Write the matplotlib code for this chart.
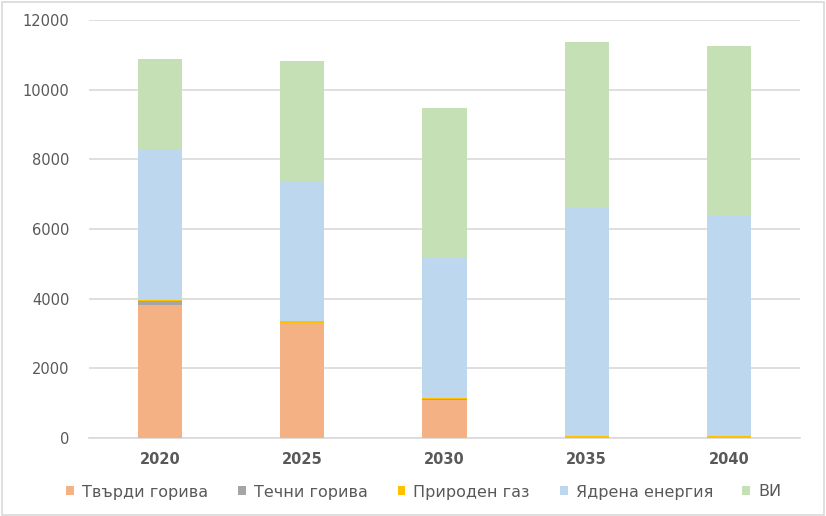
import matplotlib
matplotlib.use("Agg")
import matplotlib.pyplot as plt
import numpy as np
from matplotlib.patches import Rectangle

plt.rcParams['font.family'] = ['DejaVu Sans']

years = ['2020', '2025', '2030', '2035', '2040']
series_names = ['Твърди горива', 'Течни горива', 'Природен газ', 'Ядрена енергия', 'ВИ']
solid = [3820, 3290, 1090, 0, 0]
liquid = [100, 10, 20, 0, 0]
gas = [50, 50, 40, 60, 60]
nuclear = [4310, 4020, 4050, 6570, 6310]
renew = [2600, 3450, 4270, 4740, 4880]
colors = ['#F4B183', '#A5A5A5', '#FFC000', '#BDD7EE', '#C5E0B4']
yticks = [0, 2000, 4000, 6000, 8000, 10000, 12000]

fig = plt.figure(figsize=(8.26, 5.16), dpi=100)
ax = fig.add_axes([89/826, 1-438/516, 711/826, 418/516])

x = np.arange(len(years))
bottom = np.zeros(len(years))
data = [solid, liquid, gas, nuclear, renew]
for vals, name, c in zip(data, series_names, colors):
    ax.bar(x, vals, width=0.31, bottom=bottom, color=c, label=name,
           edgecolor='none', linewidth=0, zorder=3)
    bottom += np.array(vals)

ax.set_xlim(-0.5, len(years)-0.5)
ax.set_ylim(0, 12000)
ax.set_yticks(yticks)
ax.set_yticklabels([str(v) for v in yticks], fontsize=10.5, color='#595959')
ax.set_xticks(x)
ax.set_xticklabels(years, fontsize=10.5, fontweight='bold', color='#595959')
ax.yaxis.grid(True, color='#D9D9D9', linewidth=1.2, zorder=0)
for s in ['top', 'right', 'left']:
    ax.spines[s].set_visible(False)
ax.spines['bottom'].set_color('#D9D9D9')
ax.spines['bottom'].set_linewidth(1.2)
ax.tick_params(axis='both', length=0)
ax.tick_params(axis='y', pad=14)
ax.tick_params(axis='x', pad=10)

leg = fig.legend(loc='center', bbox_to_anchor=(424/826, 1-492/516), ncol=5,
                 frameon=False, fontsize=11.5, handlelength=0.5, handleheight=0.5,
                 handletextpad=0.5, columnspacing=1.85)
for t in leg.get_texts():
    t.set_color('#595959')

fig.patches.append(Rectangle((0.002, 0.002), 0.996, 0.994, transform=fig.transFigure,
                             fill=False, edgecolor='#D9D9D9', linewidth=1.2))

fig.savefig('out.png', dpi=100)
